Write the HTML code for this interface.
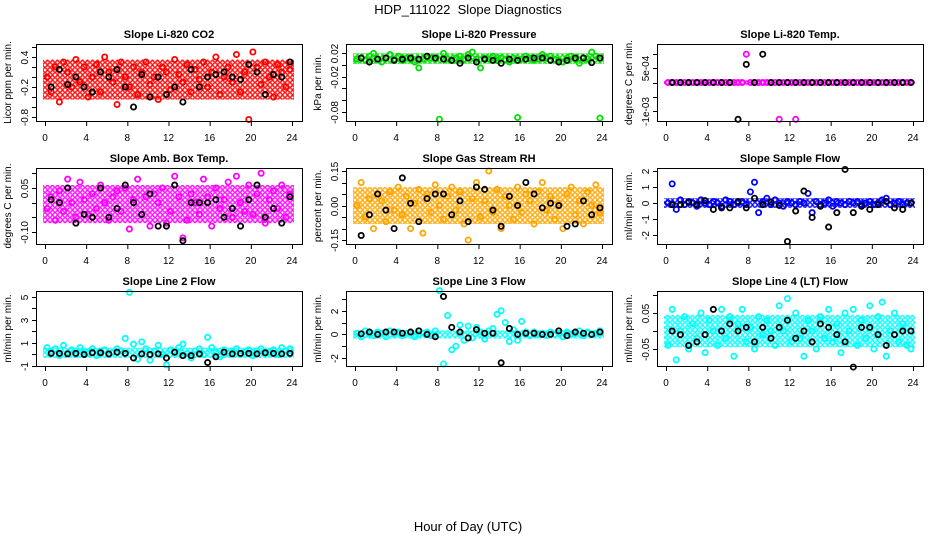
<!DOCTYPE html>
<html><head><meta charset="utf-8"><style>
html,body{margin:0;padding:0;background:#fff;width:936px;height:540px;overflow:hidden}
svg{display:block;font-family:"Liberation Sans",sans-serif}
</style></head><body>
<svg id="chart" width="936" height="540" viewBox="0 0 936 540">
<defs id="defs"></defs>
<text x="468" y="14" text-anchor="middle" font-size="13" style="white-space:pre">HDP_111022  Slope Diagnostics</text>
<text x="468" y="531" text-anchor="middle" font-size="13">Hour of Day (UTC)</text>
</svg>
<script>
const hours = [0.2,0.6,1.0,1.4,1.8,2.2,2.6,3.0,3.4,3.8,4.2,4.6,5.0,5.4,5.8,6.2,6.6,7.0,7.4,7.8,8.2,8.6,9.0,9.4,9.8,10.2,10.6,11.0,11.4,11.8,12.2,12.6,13.0,13.4,13.8,14.2,14.6,15.0,15.4,15.8,16.2,16.6,17.0,17.4,17.8,18.2,18.6,19.0,19.4,19.8,20.2,20.6,21.0,21.4,21.8,22.2,22.6,23.0,23.4,23.8];
const blackHours = [0.6,1.4,2.2,3.0,3.8,4.6,5.4,6.2,7.0,7.8,8.6,9.4,10.2,11.0,11.8,12.6,13.4,14.2,15.0,15.8,16.6,17.4,18.2,19.0,19.8,20.6,21.4,22.2,23.0,23.8];
const xTicks = [0,4,8,12,16,20,24];

const co2Vals = [0.0,-0.3,0.2,-0.5,0.3,0.1,-0.2,0.35,-0.1,0.2,-0.4,0.0,0.25,-0.3,0.4,0.1,-0.1,-0.55,0.3,0.0,-0.2,0.2,-0.35,0.1,0.3,-0.15,0.0,-0.45,0.2,0.1,-0.25,0.35,0.05,-0.1,0.25,-0.3,0.15,-0.05,0.3,-0.2,0.1,0.4,-0.35,0.0,0.2,-0.1,0.45,-0.3,0.1,-0.85,0.5,0.2,-0.15,0.3,0.0,-0.4,0.25,0.1,-0.2,0.15];
const co2Black = [-0.2,0.15,-0.15,0.0,-0.2,-0.3,0.1,0.0,0.15,-0.2,-0.6,0.05,-0.4,0.0,-0.35,-0.2,-0.5,0.15,-0.2,0.0,0.05,0.1,0.0,-0.05,0.25,0.1,-0.35,0.05,0.0,0.3];
const presVals = [0.01,0.012,0.008,0.015,0.02,0.01,0.005,0.012,0.018,0.01,0.015,0.008,0.012,0.01,0.005,-0.005,0.01,0.015,0.012,0.01,-0.093,0.02,0.01,0.008,0.012,0.015,0.01,0.018,0.022,0.01,-0.005,0.012,0.01,0.015,0.008,0.012,0.01,0.005,0.012,-0.09,0.01,0.015,0.012,0.008,0.01,0.018,0.012,0.015,0.01,0.008,0.005,0.012,0.015,0.01,0.003,0.012,0.01,0.022,0.015,-0.091];
const presBlack = [0.012,0.005,0.01,0.012,0.008,0.01,0.012,0.01,0.015,0.012,0.01,0.008,0.003,0.012,0.005,0.01,0.008,0.003,0.01,0.008,0.01,0.012,0.012,0.008,0.005,0.008,0.012,0.012,0.004,0.012];
const tempVals = [0,0,0,0,0,0,0,0,0,0,0,0,0,0,0,0,0,0,0,0.001,0,0,0,0,0,0,0,-0.0013,0,0,0,-0.0013,0,0,0,0,0,0,0,0,0,0,0,0,0,0,0,0,0,0,0,0,0,0,0,0,0,0,0,0];
const tempBlack = [0,0,0,0,0,0,0,0,-0.0013,0.00064,0,0.001,0,0,0,0,0,0,0,0,0,0,0,0,0,0,0,0,0,0];
const ambVals = [-0.02,0.02,-0.06,0.04,-0.03,0.08,0.0,-0.05,0.07,0.01,-0.04,0.03,-0.02,0.06,0.0,-0.06,0.02,0.04,-0.03,0.05,-0.09,0.01,0.08,-0.04,0.02,-0.08,0.03,0.0,0.05,-0.07,-0.03,0.09,0.02,-0.12,-0.06,0.03,0.0,-0.04,0.08,0.02,-0.08,0.05,-0.02,0.01,0.07,-0.05,0.09,0.0,-0.03,0.06,-0.04,0.03,0.1,-0.07,0.01,0.04,-0.02,0.06,-0.05,0.03];
const ambBlack = [0.01,0.0,0.05,-0.07,-0.04,-0.05,0.05,-0.05,-0.02,0.06,0.0,-0.04,0.03,-0.08,-0.08,0.06,-0.13,0.0,0.0,0.0,0.01,-0.05,-0.02,-0.08,0.01,0.06,-0.05,-0.02,-0.07,0.02];
const rhVals = [0.0,0.1,-0.05,0.03,-0.1,0.05,0.02,-0.07,0.06,-0.02,0.08,-0.04,0.04,-0.1,0.01,0.07,-0.12,0.05,-0.03,0.09,0.0,-0.06,0.04,0.08,-0.02,0.06,-0.08,-0.15,0.03,0.1,-0.05,0.02,0.15,-0.03,0.07,-0.1,0.04,0.0,-0.06,0.08,-0.03,0.05,0.02,-0.08,0.06,0.1,-0.02,0.04,-0.06,0.01,-0.1,0.05,0.08,-0.04,0.02,-0.08,0.06,0.0,0.09,-0.03];
const rhBlack = [-0.13,-0.04,0.05,-0.02,-0.1,0.12,0.01,-0.07,0.03,0.05,0.05,-0.04,0.02,-0.07,0.08,0.07,-0.02,-0.09,0.04,0.0,0.1,0.05,-0.01,0.01,0.0,-0.09,-0.08,0.02,-0.04,-0.01];
const sampVals = [0.0,1.2,-0.4,0.2,-0.1,0.1,0.0,-0.2,0.2,0.0,-0.1,0.1,0.0,-0.2,0.2,0.1,-0.1,0.0,0.1,-0.1,0.7,1.3,-0.6,0.1,0.3,-0.1,0.2,0.0,-0.2,0.1,0.0,-0.1,0.1,0.0,0.6,-0.6,0.1,-0.1,0.0,0.2,-0.2,0.1,0.0,-0.1,0.1,0.0,0.1,-0.1,0.0,0.1,-0.1,0.0,0.2,0.3,-0.1,0.0,0.1,-0.1,0.0,0.0];
const sampBlack = [-0.1,-0.1,0.05,-0.1,0.15,-0.4,-0.3,-0.3,0.1,-0.3,0.3,-0.1,0.05,-0.15,-2.4,-0.5,0.75,-0.9,-0.2,-1.5,-0.6,2.1,-0.6,-0.2,-0.4,-0.1,0.1,-0.3,-0.4,0.0];
const l2Vals = [0.6,0.2,0.5,-0.1,0.8,0.1,0.4,0.0,0.6,0.2,0.1,0.5,-0.1,0.3,0.4,0.0,0.2,0.5,0.3,1.4,5.4,0.9,-0.4,1.1,0.5,-0.5,0.3,0.8,0.0,-0.9,0.4,0.2,0.6,0.9,0.1,-0.3,0.3,0.5,0.0,1.5,0.6,0.2,-0.2,0.4,0.1,0.3,0.5,0.0,0.2,0.4,-0.1,0.3,0.5,0.1,0.2,0.4,0.0,0.6,0.3,0.5];
const l2Black = [0.1,0.1,0.05,0.1,0.0,0.15,0.15,0.05,0.2,0.1,-0.3,0.05,0.0,0.05,-0.3,0.2,-0.1,-0.1,0.05,-0.7,-0.2,0.2,0.05,0.1,0.1,0.05,0.15,0.1,0.05,0.1];
const l3Vals = [0.1,-0.2,0.3,0.0,-0.1,0.2,0.1,-0.2,0.3,0.0,0.2,-0.1,0.1,0.2,-0.2,0.0,0.1,0.2,-0.1,0.3,3.7,-2.5,1.6,-1.3,-1.0,0.8,-0.5,0.7,-0.3,0.6,0.2,-0.4,0.3,0.5,1.7,2.0,1.0,-0.6,0.4,-0.5,1.1,0.2,-0.1,0.2,0.0,0.1,-0.1,0.2,0.0,0.1,-0.2,0.2,0.0,0.1,0.3,-0.1,0.2,0.0,0.1,0.3];
const l3Black = [0.05,0.2,0.0,0.2,0.2,0.1,0.2,0.3,0.0,-0.2,3.2,0.6,0.2,-0.3,0.4,0.1,0.1,-2.4,0.5,0.0,0.1,0.1,0.0,0.0,0.3,-0.1,0.2,0.1,0.0,0.2];
const l4Vals = [-0.04,0.06,-0.08,0.0,0.04,-0.05,0.02,-0.02,0.05,-0.06,0.03,0.0,-0.04,0.06,-0.02,0.04,-0.07,0.02,0.06,-0.03,0.01,-0.05,0.04,-0.01,0.03,0.0,-0.04,0.07,0.0,0.09,-0.03,0.05,-0.02,-0.07,0.03,0.0,-0.05,0.04,-0.02,0.06,-0.03,0.02,-0.06,0.05,0.0,0.06,-0.04,0.03,-0.02,0.07,-0.05,0.04,0.08,-0.07,0.0,0.05,-0.03,0.02,-0.04,-0.05];
const l4Black = [0.0,-0.01,-0.04,-0.03,-0.01,0.06,0.0,0.02,0.0,0.01,-0.03,0.01,-0.02,0.01,0.03,-0.02,0.0,-0.03,0.02,0.01,-0.01,-0.03,-0.1,0.01,0.01,-0.01,-0.04,-0.01,0.0,0.0];
const bandLo = [-0.45,0.002,-0.00008,-0.07,-0.08,-0.3,-0.3,-0.35,-0.045];
const bandHi = [0.35,0.02,0.00008,0.06,0.08,0.3,0.6,0.35,0.045];

const NS="http://www.w3.org/2000/svg";
const svg=document.getElementById('chart');
const defs=document.getElementById('defs');
function mk(tag,attrs,parent){const e=document.createElementNS(NS,tag);for(const k in attrs)e.setAttribute(k,attrs[k]);(parent||svg).appendChild(e);return e;}

const panels=[
 {t:"Slope Li-820 CO2",yl:"Licor ppm per min.",L:36,T:44,B:121,dom:[-0.88,0.66],ticks:[0.6,0.4,0.2,0,-0.2,-0.4,-0.6,-0.8],labs:{"0.4":"0.4","-0.2":"-0.2","-0.8":"-0.8"},col:"#ff0000",v:co2Vals,b:co2Black,name:"co2"},
 {t:"Slope Li-820 Pressure",yl:"kPa per min.",L:346,T:44,B:121,dom:[-0.096,0.036],ticks:[0.02,0,-0.02,-0.04,-0.06,-0.08],labs:{"0.02":"0.02","-0.02":"-0.02","-0.08":"-0.08"},col:"#00e000",v:presVals,b:presBlack,name:"pressure"},
 {t:"Slope Li-820 Temp.",yl:"degrees C per min.",L:657,T:44,B:121,dom:[-0.00136,0.00136],ticks:[0.001,0.0005,0,-0.0005,-0.001],labs:{"0.0005":"5e-04","-0.001":"-1e-03"},col:"#ff00ff",v:tempVals,b:tempBlack,name:"temp"},
 {t:"Slope Amb. Box Temp.",yl:"degrees C per min.",L:36,T:168,B:244,dom:[-0.141,0.118],ticks:[0.1,0.05,0,-0.05,-0.1],labs:{"0.05":"0.05","-0.1":"-0.10"},col:"#ff00ff",v:ambVals,b:ambBlack,name:"amb-temp"},
 {t:"Slope Gas Stream RH",yl:"percent per min.",L:346,T:168,B:244,dom:[-0.167,0.163],ticks:[0.15,0.1,0.05,0,-0.05,-0.1,-0.15],labs:{"0.15":"0.15","0":"0.00","-0.15":"-0.15"},col:"#ffa500",v:rhVals,b:rhBlack,name:"rh"},
 {t:"Slope Sample Flow",yl:"ml/min per min.",L:657,T:168,B:244,dom:[-2.56,2.19],ticks:[2,1,0,-1,-2],labs:{"2":"2","1":"1","0":"0","-1":"-1","-2":"-2"},col:"#0000ff",v:sampVals,b:sampBlack,name:"sample-flow"},
 {t:"Slope Line 2 Flow",yl:"ml/min per min.",L:36,T:291,B:366,dom:[-1.0,5.52],ticks:[5,4,3,2,1,0,-1],labs:{"5":"5","3":"3","1":"1","-1":"-1"},col:"#00ffff",v:l2Vals,b:l2Black,name:"line2-flow"},
 {t:"Slope Line 3 Flow",yl:"ml/min per min.",L:346,T:291,B:366,dom:[-2.67,3.67],ticks:[3,2,1,0,-1,-2],labs:{"2":"2","0":"0","-2":"-2"},col:"#00ffff",v:l3Vals,b:l3Black,name:"line3-flow"},
 {t:"Slope Line 4 (LT) Flow",yl:"ml/min per min.",L:657,T:291,B:366,dom:[-0.097,0.111],ticks:[0.1,0.05,0,-0.05],labs:{"0.05":"0.05","-0.05":"-0.05"},col:"#00ffff",v:l4Vals,b:l4Black,name:"line4-flow"}
];

panels.forEach((p,i)=>{
 const W=266;
 const x=h=>p.L+9+h*(247/24);
 const y=v=>p.B-(v-p.dom[0])/(p.dom[1]-p.dom[0])*(p.B-p.T);
 const pat=mk('pattern',{id:'pat'+i,width:5,height:5,patternUnits:'userSpaceOnUse'},defs);
 mk('circle',{cx:2.5,cy:2.5,r:1.8,fill:'none',stroke:p.col,'stroke-width':1.3},pat);
 const g=mk('g',{});
 
 
 const tt=mk('text',{x:p.L+W/2,y:p.T-6,'text-anchor':'middle','font-size':11,'font-weight':'bold'},g);
 tt.textContent=p.t;
 
 
 const band=mk('rect',{x:x(0)-2,width:x(24)-x(0)+4,y:y(bandHi[i]),height:Math.max(4,y(bandLo[i])-y(bandHi[i])),fill:'url(#pat'+i+')'},g);
 
 
 p.v.forEach((v,k)=>{
  const c=mk('circle',{cx:x(hours[k]),cy:y(v),r:2.6,fill:'none',stroke:p.col,'stroke-width':1.8},g);
  
  
 });
 p.b.forEach((v,k)=>{
  const c=mk('circle',{cx:x(blackHours[k]),cy:y(v),r:2.6,fill:'none',stroke:'#000','stroke-width':1.8},g);
  
  
 });
 const box=mk('rect',{x:p.L+0.5,y:p.T+0.5,width:W,height:p.B-p.T,fill:'none',stroke:'#000','stroke-width':1},g);
 
 
 const xa=mk('g',{},g);
 
 
 mk('line',{x1:x(0),x2:x(24),y1:p.B+0.5,y2:p.B+0.5,stroke:'#000'},xa);
 xTicks.forEach(t=>{
  mk('line',{x1:x(t)+0.5,x2:x(t)+0.5,y1:p.B,y2:p.B+5,stroke:'#000'},xa);
  const l=mk('text',{x:x(t),y:p.B+20,'text-anchor':'middle','font-size':10},xa);
  l.textContent=t;
  
  
 });
 const ya=mk('g',{},g);
 
 
 mk('line',{x1:p.L+0.5,x2:p.L+0.5,y1:y(p.ticks[0]),y2:y(p.ticks[p.ticks.length-1]),stroke:'#000'},ya);
 p.ticks.forEach(t=>{
  const yy=Math.round(y(t))+0.5;
  mk('line',{x1:p.L-4,x2:p.L,y1:yy,y2:yy,stroke:'#000'},ya);
  const key=String(t);
  if(p.labs[key]!==undefined){
   const l=mk('text',{x:p.L-8,y:yy,'text-anchor':'middle','font-size':10,transform:`rotate(-90 ${p.L-8} ${yy})`},ya);
   l.textContent=p.labs[key];
   
   
  }
 });
 const cy=(p.T+p.B)/2;
 const yt=mk('text',{x:p.L-25,y:cy,'text-anchor':'middle','font-size':10,transform:`rotate(-90 ${p.L-25} ${cy})`},g);
 yt.textContent=p.yl;
 
 
});
</script>
</body></html>
